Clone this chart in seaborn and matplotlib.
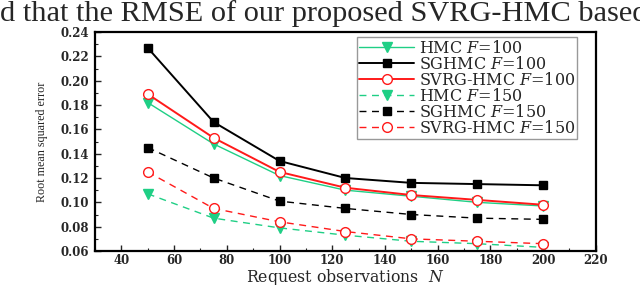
import numpy as np
import pandas as pd
import seaborn as sns
import matplotlib
matplotlib.use("Agg")
import matplotlib.pyplot as plt
from matplotlib.ticker import MultipleLocator

N_obs = [50, 75, 100, 125, 150, 175, 200]
hmc_100 = [0.182, 0.148, 0.122, 0.110, 0.105, 0.100, 0.097]
sghmc_100 = [0.227, 0.166, 0.134, 0.120, 0.116, 0.115, 0.114]
svrg_100 = [0.189, 0.153, 0.125, 0.112, 0.106, 0.102, 0.098]
hmc_150 = [0.107, 0.087, 0.079, 0.073, 0.068, 0.066, 0.063]
sghmc_150 = [0.145, 0.120, 0.101, 0.095, 0.090, 0.087, 0.086]
svrg_150 = [0.125, 0.095, 0.084, 0.076, 0.070, 0.068, 0.066]
labels = ["HMC $F$=100", "SGHMC $F$=100", "SVRG-HMC $F$=100",
          "HMC $F$=150", "SGHMC $F$=150", "SVRG-HMC $F$=150"]
x_ticks = [40, 60, 80, 100, 120, 140, 160, 180, 200, 220]
y_ticks = [0.06, 0.08, 0.10, 0.12, 0.14, 0.16, 0.18, 0.20, 0.22, 0.24]

series = [hmc_100, sghmc_100, svrg_100, hmc_150, sghmc_150, svrg_150]
rows = []
for lab, vals in zip(labels, series):
    for n, v in zip(N_obs, vals):
        rows.append({"N": n, "rmse": v, "series": lab})
df = pd.DataFrame(rows)

sns.set_style("ticks")
plt.rcParams["font.family"] = ["DejaVu Serif"]
plt.rcParams["mathtext.fontset"] = "dejavuserif"

green = "#1fcf85"
red = "#ff1a1a"
black = "#000000"
dash = (0, (5, 4))
styles = {
    labels[0]: dict(color=green, ls="-", marker="v", mfc=green, mec=green, ms=7, lw=1.0),
    labels[1]: dict(color=black, ls="-", marker="s", mfc=black, mec=black, ms=6, lw=1.4),
    labels[2]: dict(color=red, ls="-", marker="o", mfc="white", mec=red, ms=7, lw=1.4),
    labels[3]: dict(color=green, ls=dash, marker="v", mfc=green, mec=green, ms=7, lw=1.0),
    labels[4]: dict(color=black, ls=dash, marker="s", mfc=black, mec=black, ms=6, lw=1.0),
    labels[5]: dict(color=red, ls=dash, marker="o", mfc="white", mec=red, ms=7, lw=1.0),
}

fig = plt.figure(figsize=(6.4, 2.85), dpi=100)
ax = fig.add_axes([0.1484, 0.1193, 0.7826, 0.7684])

for lab in labels:
    sub = df[df["series"] == lab]
    st = styles[lab]
    sns.lineplot(data=sub, x="N", y="rmse", ax=ax, color=st["color"],
                 linestyle=st["ls"], linewidth=st["lw"], marker=st["marker"],
                 markerfacecolor=st["mfc"], markeredgecolor=st["mec"],
                 markersize=st["ms"], markeredgewidth=1.0, label=lab)

ax.set_xlim(30, 220)
ax.set_ylim(0.06, 0.24)
ax.set_xticks(x_ticks)
ax.set_yticks(y_ticks)
ax.set_xticklabels([str(t) for t in x_ticks])
ax.set_yticklabels([f"{t:.2f}" for t in y_ticks])
ax.xaxis.set_minor_locator(MultipleLocator(10))
ax.yaxis.set_minor_locator(MultipleLocator(0.01))
ax.tick_params(which="both", direction="in", top=False, right=False)
ax.tick_params(which="major", length=4, width=1.0, labelsize=8.5, pad=4)
ax.tick_params(axis="x", which="major", pad=2.5)
ax.tick_params(which="minor", length=2.5, width=0.8)
for lbl in ax.get_xticklabels() + ax.get_yticklabels():
    lbl.set_fontweight("bold")
for sp in ax.spines.values():
    sp.set_visible(True)
    sp.set_linewidth(1.6)
    sp.set_color("black")

ax.set_xlabel("Request observations  $N$", fontsize=11.3, labelpad=0)
ax.set_ylabel("Root mean squared error", fontsize=8.7, labelpad=9,
              family=["Liberation Serif"])

leg = ax.legend(loc="upper right", bbox_to_anchor=(0.963, 0.975), fontsize=11.5,
                frameon=True, fancybox=False, edgecolor="#808080",
                handlelength=3.4, handletextpad=0.3, labelspacing=-0.06,
                borderpad=0.15, borderaxespad=0.0)
leg.get_frame().set_linewidth(1.0)

fig.text(0.0, 0.928, "d that the RMSE of our proposed SVRG-HMC based",
         fontsize=21.9, family=["Liberation Serif"], ha="left", va="baseline")

fig.savefig("out.png", dpi=100)
